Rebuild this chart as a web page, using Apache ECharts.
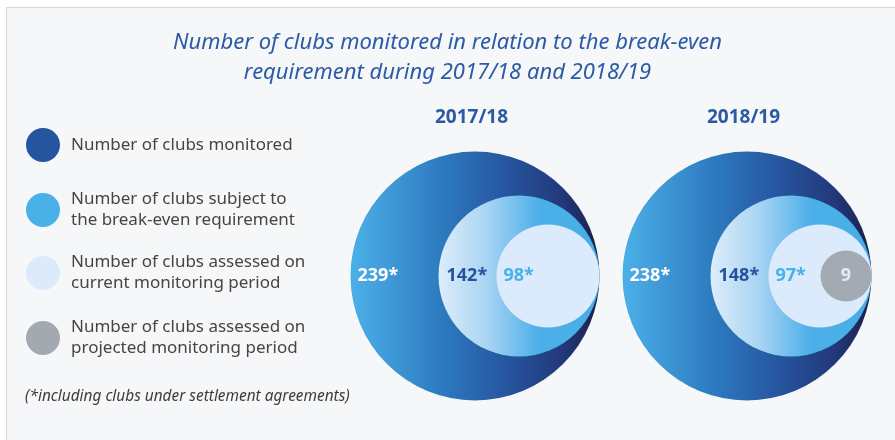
<!DOCTYPE html>
<html>
<head>
<meta charset="utf-8">
<script src="https://cdn.jsdelivr.net/npm/echarts@6/dist/echarts.min.js"></script>
<style>
  html, body { margin: 0; padding: 0; background: #ffffff; }
  #chart { width: 895px; height: 440px; }
</style>
</head>
<body>
<div id="chart"></div>
<script>
// Seasons and club counts
const seasons = ['2017/18', '2018/19'];
const clubsMonitored = [239, 238];
const clubsBreakEven = [142, 148];
const clubsCurrentPeriod = [98, 97];
const clubsProjectedPeriod = [null, 9];

const titleLines = [
  'Number of clubs monitored in relation to the break-even',
  'requirement during 2017/18 and 2018/19'
];
const footnote = '(*including clubs under settlement agreements)';

const seriesNames = [
  'Number of clubs monitored',
  'Number of clubs subject to the break-even requirement',
  'Number of clubs assessed on current monitoring period',
  'Number of clubs assessed on projected monitoring period'
];
const legendText = {
  'Number of clubs monitored': 'Number of clubs monitored',
  'Number of clubs subject to the break-even requirement': 'Number of clubs subject to\nthe break-even requirement',
  'Number of clubs assessed on current monitoring period': 'Number of clubs assessed on\ncurrent monitoring period',
  'Number of clubs assessed on projected monitoring period': 'Number of clubs assessed on\nprojected monitoring period'
};

const FONT = 'Noto Sans';
const TITLE_BLUE = '#2b5aa6';

// nested circle diameters per level, all touching the right edge of the outer circle
const ringDiameter = [249, 161, 103, 51];
const outerR = ringDiameter[0] / 2;

const outerFill = new echarts.graphic.LinearGradient(0, 0, 1, 0, [
  { offset: 0, color: '#4cb0e8' },
  { offset: 0.35, color: '#2e7dc1' },
  { offset: 0.62, color: '#2656a1' },
  { offset: 0.85, color: '#22397a' },
  { offset: 1, color: '#1b1f4e' }
]);
const middleFill = new echarts.graphic.LinearGradient(0, 0, 1, 0, [
  { offset: 0, color: '#ddedfb' },
  { offset: 0.3, color: '#a9d4f3' },
  { offset: 0.62, color: '#4cb0e8' },
  { offset: 1, color: '#48ade6' }
]);

function ring(level, values, fill, label) {
  const d = ringDiameter[level];
  return {
    type: 'scatter',
    name: seriesNames[level],
    z: 2 + level,
    symbol: 'circle',
    symbolSize: d,
    symbolOffset: [outerR - d / 2, 0],
    silent: true,
    itemStyle: { color: fill, opacity: 1 },
    label: Object.assign({
      show: true,
      fontFamily: FONT,
      fontSize: 18,
      fontWeight: 'bold'
    }, label),
    emphasis: { disabled: true },
    data: values.map((v, i) => v == null ? null : [seasons[i], 0, v])
  };
}

const legendColors = ['#2655a0', '#4ab0e8', '#dbebfb', '#a2a9b0'];
const legendRowTop = [128, 189, 252, 317];

const titleStyle = {
  fontFamily: FONT,
  fontStyle: 'italic',
  fontWeight: 'normal',
  fontSize: 22,
  color: TITLE_BLUE
};

const chart = echarts.init(document.getElementById('chart'), null, { renderer: 'canvas' });
chart.setOption({
  animation: false,
  backgroundColor: '#ffffff',
  graphic: [{
    type: 'rect',
    z: -10,
    silent: true,
    shape: { x: 6.5, y: 7.5, width: 900, height: 440 },
    style: { fill: '#f6f7f9', stroke: '#d4d7db', lineWidth: 1 }
  }],
  title: [{
    text: titleLines[0],
    left: 'center',
    top: 32,
    padding: 0,
    textStyle: titleStyle
  }, {
    text: titleLines[1],
    left: 'center',
    top: 62,
    padding: 0,
    textStyle: titleStyle
  }, {
    text: footnote,
    left: 25,
    top: 389,
    padding: 0,
    textStyle: {
      fontFamily: FONT,
      fontStyle: 'italic',
      fontWeight: 'normal',
      fontSize: 15.4,
      color: '#3d3d3d'
    }
  }],
  legend: seriesNames.map((name, i) => ({
    left: 26,
    top: legendRowTop[i],
    padding: 0,
    orient: 'vertical',
    selectedMode: false,
    icon: 'circle',
    itemWidth: 34,
    itemHeight: 34,
    formatter: n => legendText[n],
    textStyle: {
      fontFamily: FONT,
      fontSize: 17,
      lineHeight: 21,
      color: '#454545',
      padding: [0, 0, 0, 6]
    },
    data: [{ name: name, itemStyle: { color: legendColors[i] } }]
  })),
  grid: { left: 339, width: 544, top: 151, height: 250 },
  xAxis: {
    type: 'category',
    position: 'top',
    data: seasons,
    axisLine: { show: false },
    axisTick: { show: false },
    splitLine: { show: false },
    axisLabel: {
      margin: 24,
      padding: [0, 7, 0, 0],
      fontFamily: FONT,
      fontSize: 19,
      fontWeight: 'bold',
      color: TITLE_BLUE
    }
  },
  yAxis: { type: 'value', min: -1, max: 1, show: false },
  series: [
    ring(0, clubsMonitored, outerFill, {
      position: 'insideLeft', distance: 7, color: '#ffffff',
      formatter: p => p.value[2] + '*'
    }),
    ring(1, clubsBreakEven, middleFill, {
      position: 'insideLeft', distance: 8, color: '#27519c',
      formatter: p => p.value[2] + '*'
    }),
    ring(2, clubsCurrentPeriod, '#dbebfb', {
      position: 'insideLeft', distance: 7, color: '#4ab0e8',
      formatter: p => p.value[2] + '*'
    }),
    ring(3, clubsProjectedPeriod, '#a3aab1', {
      position: 'inside', color: '#e2eaf3',
      formatter: p => String(p.value[2])
    })
  ]
});
</script>
</body>
</html>
